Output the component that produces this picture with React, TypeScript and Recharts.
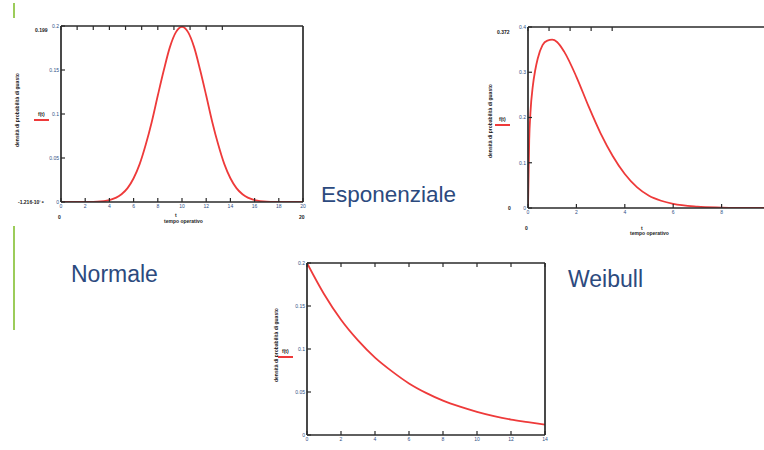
import React from 'react';
import { LineChart, Line, XAxis, YAxis } from 'recharts';

// Normale (media 10, picco ~0.2)
const normT = [0, 1, 2, 3, 4, 5, 5.5, 6, 6.5, 7, 7.5, 8, 8.5, 9, 9.5, 10, 10.5, 11, 11.5, 12, 12.5, 13, 13.5, 14, 14.5, 15, 16, 17, 18, 19, 20];
const normF = [0, 0, 0.0001, 0.0004, 0.0022, 0.0088, 0.0158, 0.027, 0.043, 0.065, 0.091, 0.121, 0.15, 0.176, 0.193, 0.199, 0.193, 0.176, 0.15, 0.121, 0.091, 0.065, 0.043, 0.027, 0.0158, 0.0088, 0.0022, 0.0004, 0.0001, 0, 0];
const normXTicks = [0, 2, 4, 6, 8, 10, 12, 14, 16, 18, 20];
const normYTicks = [0, 0.05, 0.1, 0.15, 0.2];

// Weibull (the plot runs past the right edge, x = 10 is cut off)
const weibT = [0, 0.05, 0.1, 0.2, 0.3, 0.4, 0.6, 0.8, 1, 1.2, 1.5, 2, 2.5, 3, 3.5, 4, 4.5, 5, 5.5, 6, 7, 8, 9, 10];
const weibF = [0, 0.15, 0.21, 0.27, 0.305, 0.33, 0.36, 0.37, 0.372, 0.367, 0.345, 0.29, 0.225, 0.165, 0.115, 0.075, 0.046, 0.027, 0.016, 0.009, 0.003, 0.001, 0, 0];
const weibXTicks = [0, 2, 4, 6, 8];
const weibYTicks = [0, 0.1, 0.2, 0.3, 0.4];

// Esponenziale
const espT = [0, 1, 2, 3, 4, 5, 6, 7, 8, 9, 10, 11, 12, 13, 14];
const espF = [0.2, 0.164, 0.134, 0.11, 0.09, 0.074, 0.06, 0.049, 0.04, 0.033, 0.027, 0.022, 0.018, 0.015, 0.012];
const espXTicks = [0, 2, 4, 6, 8, 10, 12, 14];
const espYTicks = [0, 0.05, 0.1, 0.15, 0.2];

const RED = '#ee3a3a';
const FRAME = '#2a2a2a';
const TICK_TEXT = { fontSize: 5, fill: '#2f4f86', fontFamily: 'Liberation Sans' };
const TITLE = '#2c4a7e';

const toRows = (t: number[], f: number[]) => t.map((v, i) => ({ t: v, f: f[i] }));

interface PlotProps {
  t: number[];
  f: number[];
  xTicks: number[];
  yTicks: number[];
  xMax: number;
  yMax: number;
  width: number;
  height: number;
  margin: { top: number; right: number; left: number; bottom: number };
  yWidth: number;
  xHeight: number;
}

const Plot: React.FC<PlotProps> = ({ t, f, xTicks, yTicks, xMax, yMax, width, height, margin, yWidth, xHeight }) => {
  const axisLine = { stroke: FRAME, strokeWidth: 1.7 };
  const tickLine = { stroke: FRAME, strokeWidth: 1.2 };
  return (
    <LineChart width={width} height={height} data={toRows(t, f)} margin={margin}>
      <XAxis
        dataKey="t"
        type="number"
        domain={[0, xMax]}
        ticks={xTicks}
        height={xHeight}
        axisLine={axisLine}
        tickLine={tickLine}
        tickSize={-4}
        tickMargin={6}
        tick={TICK_TEXT}
        allowDataOverflow
      />
      <XAxis
        xAxisId="top"
        orientation="top"
        type="number"
        domain={[0, xMax]}
        ticks={xTicks}
        mirror
        axisLine={axisLine}
        tickLine={tickLine}
        tickSize={4}
        tickFormatter={() => ''}
      />
      <YAxis
        type="number"
        domain={[0, yMax]}
        ticks={yTicks}
        width={yWidth}
        axisLine={axisLine}
        tickLine={tickLine}
        tickSize={-4}
        tickMargin={6}
        tick={TICK_TEXT}
        allowDataOverflow
      />
      <YAxis
        yAxisId="right"
        orientation="right"
        type="number"
        domain={[0, yMax]}
        ticks={yTicks}
        mirror
        axisLine={axisLine}
        tickLine={tickLine}
        tickSize={4}
        tickFormatter={() => ''}
      />
      <Line
        type="monotone"
        dataKey="f"
        stroke={RED}
        strokeWidth={1.8}
        dot={false}
        isAnimationActive={false}
      />
    </LineChart>
  );
};

const small: React.CSSProperties = {
  position: 'absolute',
  fontFamily: 'Liberation Sans',
  fontSize: 5,
  fontWeight: 'bold',
  color: '#222',
  whiteSpace: 'nowrap',
  lineHeight: 1,
};

const title = (left: number, top: number, size: number): React.CSSProperties => ({
  position: 'absolute',
  left,
  top,
  fontFamily: 'Liberation Sans',
  fontSize: size,
  lineHeight: `${size}px`,
  color: TITLE,
  whiteSpace: 'nowrap',
});

const YLabel: React.FC<{ x: number; y: number; text: string }> = ({ x, y, text }) => (
  <div style={{ ...small, left: x, top: y, transform: 'rotate(-90deg)', transformOrigin: 'left top' }}>{text}</div>
);

const Legend: React.FC<{ x: number; y: number }> = ({ x, y }) => (
  <>
    <div style={{ ...small, left: x + 4, top: y }}>f(t)</div>
    <div style={{ position: 'absolute', left: x, top: y + 7, width: 15, height: 1.5, background: RED }} />
  </>
);

export default function App() {
  return (
    <div style={{ position: 'absolute', left: 0, top: 0, width: 764, height: 450, overflow: 'hidden', background: '#fff' }}>
      <div style={{ position: 'absolute', left: 13, top: 3, width: 1.5, height: 15, background: '#9ccc5a' }} />
      <div style={{ position: 'absolute', left: 13, top: 226, width: 1.5, height: 104, background: '#9ccc5a' }} />

      <div style={{ position: 'absolute', left: 0, top: 0 }}>
        <Plot
          t={normT} f={normF} xTicks={normXTicks} yTicks={normYTicks} xMax={20} yMax={0.2}
          width={320} height={230} margin={{ top: 26, right: 17, left: 0, bottom: 14 }} yWidth={61} xHeight={14}
        />
      </div>
      <YLabel x={15} y={147} text="densità di probabilità di guasto" />
      <Legend x={34} y={112} />
      <div style={{ ...small, left: 35, top: 28 }}>0.199</div>
      <div style={{ ...small, left: 18, top: 200 }}>-1.216·10⁻⁸</div>
      <div style={{ ...small, left: 58, top: 215 }}>0</div>
      <div style={{ ...small, left: 299, top: 215 }}>20</div>
      <div style={{ ...small, left: 175, top: 213 }}>t</div>
      <div style={{ ...small, left: 164, top: 219 }}>tempo operativo</div>

      <div style={{ position: 'absolute', left: 460, top: 0 }}>
        <Plot
          t={weibT} f={weibF} xTicks={weibXTicks} yTicks={weibYTicks} xMax={10} yMax={0.4}
          width={330} height={250} margin={{ top: 27, right: 20, left: 0, bottom: 28 }} yWidth={68} xHeight={14}
        />
      </div>
      <YLabel x={488} y={158} text="densità di probabilità di guasto" />
      <Legend x={495} y={117} />
      <div style={{ ...small, left: 497, top: 30 }}>0.372</div>
      <div style={{ ...small, left: 508, top: 206 }}>0</div>
      <div style={{ ...small, left: 525, top: 226 }}>0</div>
      <div style={{ ...small, left: 641, top: 226 }}>t</div>
      <div style={{ ...small, left: 630, top: 231 }}>tempo operativo</div>

      <div style={{ position: 'absolute', left: 250, top: 240 }}>
        <Plot
          t={espT} f={espF} xTicks={espXTicks} yTicks={espYTicks} xMax={14} yMax={0.2}
          width={310} height={210} margin={{ top: 23, right: 15, left: 0, bottom: 3 }} yWidth={57} xHeight={12}
        />
      </div>
      <YLabel x={274} y={382} text="densità di probabilità di guasto" />
      <Legend x={278} y={349} />

      <div style={title(321, 184, 22.5)}>Esponenziale</div>
      <div style={title(71, 263, 23)}>Normale</div>
      <div style={title(568, 268, 23)}>Weibull</div>
    </div>
  );
}
